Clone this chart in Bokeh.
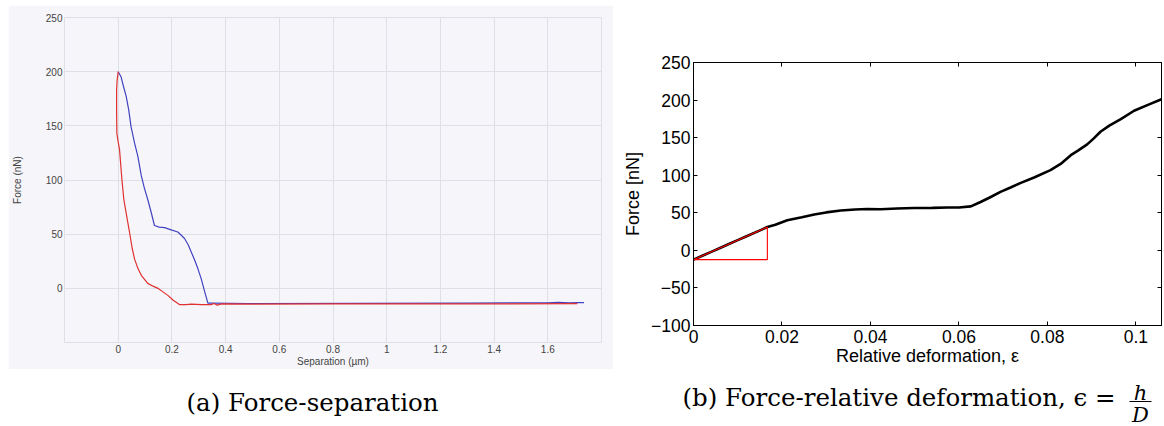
from bokeh.plotting import figure
from bokeh.layouts import row, column
from bokeh.models import Range1d, FixedTicker, LinearAxis
from bokeh.core.properties import value
from bokeh.embed import file_html
from bokeh.resources import INLINE

# ---------------- (a) force vs separation ----------------
sep_red = [0.0, -0.004, -0.006, -0.006, -0.005, 0.0, 0.005, 0.014, 0.021, 0.03, 0.042,
           0.052, 0.061, 0.074, 0.086, 0.11, 0.13, 0.148, 0.168, 0.185, 0.205, 0.228,
           0.253, 0.272, 0.31, 0.346, 0.357, 0.369, 0.384, 0.5, 0.8, 1.1, 1.4, 1.71]
force_red = [200, 192, 183, 165, 143, 135, 128, 100, 82, 69, 52,
             37, 27, 18, 12, 4.6, 2, 0, -3.5, -6.5, -11, -15,
             -15, -14.6, -15, -15, -14, -15.5, -14.4, -14.5, -14.4, -14.3, -14.3, -14.2]

sep_blue = [0.0, 0.011, 0.019, 0.03, 0.039, 0.048, 0.061, 0.073, 0.086, 0.097, 0.11,
            0.123, 0.135, 0.153, 0.173, 0.197, 0.222, 0.235, 0.247, 0.261, 0.272,
            0.285, 0.297, 0.309, 0.322, 0.334, 0.346, 0.483, 0.9, 1.3, 1.6, 1.64,
            1.68, 1.71, 1.735]
force_blue = [200, 195, 187, 177, 165, 149, 134, 122, 104, 93, 82,
              70, 58, 56.5, 56, 54, 52, 49, 46, 40, 33.5,
              26, 18, 9, -3, -13.7, -13.7, -14, -13.8, -13.6, -13.4, -13.0,
              -13.5, -13.1, -13.2]

sep_ticks = [0, 0.2, 0.4, 0.6, 0.8, 1, 1.2, 1.4, 1.6]
sep_tick_labels = ["0", "0.2", "0.4", "0.6", "0.8", "1", "1.2", "1.4", "1.6"]
force_a_ticks = [0, 50, 100, 150, 200, 250]
force_a_tick_labels = ["0", "50", "100", "150", "200", "250"]

# ---------------- (b) force vs relative deformation ----------------
eps = [0, 0.002, 0.004, 0.006, 0.008, 0.010, 0.012, 0.014, 0.0167, 0.0185, 0.0212,
       0.0245, 0.0273, 0.030, 0.0333, 0.0365, 0.0393, 0.0423, 0.0460, 0.0499, 0.0540,
       0.0574, 0.0600, 0.0627, 0.0649, 0.0672, 0.0694, 0.0718, 0.0740, 0.0770, 0.0807,
       0.0830, 0.0853, 0.0870, 0.0890, 0.0905, 0.0920, 0.0940, 0.0966, 0.0996, 0.1026,
       0.1058]
force_eps = [-12.4, -7.2, -2.0, 3.2, 8.4, 13.6, 18.8, 24.0, 31, 34, 40,
             44, 47.6, 50.5, 53, 54.3, 55, 54.8, 55.8, 56.4, 56.6,
             57, 57, 58.5, 64.4, 71, 77.8, 84, 89.8, 97, 106.7,
             115, 126.7, 133, 141, 149, 157.8, 166, 174.7, 185.8, 193.3,
             201]

# linear-fit triangle on the initial slope
slope_eps = [0, 0.0167, 0.0167, 0]
slope_force = [-12.4, 31, -12.4, -12.4]

eps_ticks = [0, 0.02, 0.04, 0.06, 0.08, 0.1]
eps_tick_labels = ["0", "0.02", "0.04", "0.06", "0.08", "0.1"]
force_b_ticks = [-100, -50, 0, 50, 100, 150, 200, 250]
force_b_tick_labels = ["\u2212100", "\u221250", "0", "50", "100", "150", "200", "250"]

caption_a = "(a) Force-separation"
caption_b = "(b) Force-relative deformation, \u03f5 ="
frac_num = "h"
frac_den = "D"

PANEL = "#f6f6fa"
GRID = "#dfdfe7"

# ---------- panel (a) ----------
pa = figure(width=605, height=364, margin=(5, 0, 0, 8), frame_align=False,
            x_range=Range1d(-0.2, 1.8), y_range=Range1d(-50, 250),
            output_backend="svg", toolbar_location=None,
            min_border_left=55, min_border_right=12, min_border_top=12, min_border_bottom=24)
pa.border_fill_color = PANEL
pa.background_fill_color = PANEL
pa.outline_line_color = GRID
pa.line(sep_blue, force_blue, line_color="#4141c2", line_width=1.2)
pa.line(sep_red, force_red, line_color="#e03030", line_width=1.2)

ax_a_x = pa.below[0]
ax_a_y = pa.left[0]
ax_a_x.ticker = FixedTicker(ticks=sep_ticks)
ax_a_x.major_label_overrides = dict(zip(sep_ticks, sep_tick_labels))
ax_a_y.ticker = FixedTicker(ticks=force_a_ticks)
ax_a_y.major_label_overrides = dict(zip(force_a_ticks, force_a_tick_labels))
pa.xgrid.ticker = FixedTicker(ticks=sep_ticks)
pa.ygrid.ticker = FixedTicker(ticks=force_a_ticks)
pa.grid.grid_line_color = GRID
pa.grid.grid_line_width = 1
ax_a_x.axis_label = "Separation (\u00b5m)"
ax_a_y.axis_label = "Force (nN)"
for ax in (ax_a_x, ax_a_y):
    ax.axis_line_color = None
    ax.major_tick_line_color = None
    ax.minor_tick_line_color = None
    ax.major_tick_out = 0
    ax.major_tick_in = 0
    ax.major_label_text_font = "Liberation Sans"
    ax.major_label_text_font_size = "10px"
    ax.major_label_text_color = "#444444"
    ax.axis_label_text_font = "Liberation Sans"
    ax.axis_label_text_font_size = "10px"
    ax.axis_label_text_font_style = "normal"
    ax.axis_label_text_color = "#444444"
    ax.major_label_standoff = 2
ax_a_x.axis_label_standoff = 0
ax_a_y.axis_label_standoff = 20

# ---------- panel (b) ----------
pb = figure(width=551, height=370, frame_align=False,
            x_range=Range1d(0, 0.1058), y_range=Range1d(-100, 250),
            output_backend="svg", toolbar_location=None,
            min_border_left=80, min_border_right=3, min_border_top=62, min_border_bottom=45)
pb.border_fill_color = "white"
pb.background_fill_color = "white"
pb.outline_line_color = "black"
pb.outline_line_width = 1
pb.grid.visible = False
pb.line(eps, force_eps, line_color="black", line_width=2.6)
pb.line(slope_eps, slope_force, line_color="#ff0000", line_width=1.1)

ax_b_x = pb.below[0]
ax_b_y = pb.left[0]
top_ax = LinearAxis()
right_ax = LinearAxis()
pb.add_layout(top_ax, "above")
pb.add_layout(right_ax, "right")
for ax in (ax_b_x, top_ax):
    ax.ticker = FixedTicker(ticks=eps_ticks)
for ax in (ax_b_y, right_ax):
    ax.ticker = FixedTicker(ticks=force_b_ticks)
ax_b_x.major_label_overrides = dict(zip(eps_ticks, eps_tick_labels))
ax_b_y.major_label_overrides = dict(zip(force_b_ticks, force_b_tick_labels))
top_ax.major_label_overrides = {t: "" for t in eps_ticks}
right_ax.major_label_overrides = {t: "" for t in force_b_ticks}
ax_b_x.axis_label = "Relative deformation, \u03b5"
ax_b_y.axis_label = "Force [nN]"
for ax in (ax_b_x, ax_b_y, top_ax, right_ax):
    ax.axis_line_color = "black"
    ax.major_tick_line_color = "black"
    ax.minor_tick_line_color = None
    ax.major_tick_in = 4
    ax.major_tick_out = 0
    ax.major_label_text_font = "Liberation Sans"
    ax.major_label_text_font_size = "17.5px"
    ax.major_label_text_color = "black"
    ax.axis_label_text_font = "Liberation Sans"
    ax.axis_label_text_font_size = "18px"
    ax.axis_label_text_font_style = "normal"
    ax.axis_label_text_color = "black"
for ax in (top_ax, right_ax):
    ax.major_label_standoff = 0
ax_b_x.major_label_standoff = 4
ax_b_x.axis_label_standoff = 0
ax_b_y.major_label_standoff = 3
ax_b_y.axis_label_standoff = 5

# ---------- captions ----------
cap = figure(width=1164, height=56, x_range=Range1d(0, 1164), y_range=Range1d(56, 0),
             output_backend="svg", toolbar_location=None, min_border=0, frame_align=False,
             x_axis_type=None, y_axis_type=None)
cap.grid.visible = False
cap.outline_line_color = None
cap.border_fill_color = "white"
cap.background_fill_color = "white"
serif = value("DejaVu Serif")
cap.text(x=[186], y=[32], text=[caption_a], text_font=serif, text_font_size="24.5px",
         text_align="left", text_baseline="alphabetic", text_color="black")
cap.text(x=[682], y=[27], text=[caption_b], text_font=serif, text_font_size="24.5px",
         text_align="left", text_baseline="alphabetic", text_color="black")
cap.text(x=[1140], y=[22.5], text=[frac_num], text_font=serif, text_font_size="21px",
         text_font_style="italic", text_align="center", text_baseline="alphabetic", text_color="black")
cap.text(x=[1140], y=[44], text=[frac_den], text_font=serif, text_font_size="21px",
         text_font_style="italic", text_align="center", text_baseline="alphabetic", text_color="black")
cap.segment(x0=[1129], y0=[31], x1=[1151], y1=[31], line_color="black", line_width=1)

layout = column(row(pa, pb), cap)
open("out.html", "w").write(file_html(layout, INLINE))
